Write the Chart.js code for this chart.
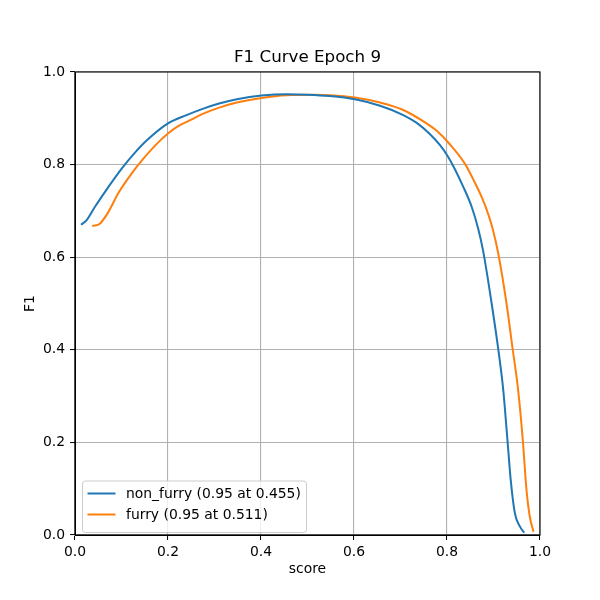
<!DOCTYPE html>
<html>
<head>
<meta charset="utf-8">
<script src="https://cdn.jsdelivr.net/npm/chart.js@4.4.1/dist/chart.umd.min.js"></script>
<style>
html,body{margin:0;padding:0;background:#fff;}
#c{display:block;}
</style>
</head>
<body>
<canvas id="c" width="600" height="600"></canvas>
<script>
const chartTitle = "F1 Curve Epoch 9";
const xLabel = "score";
const yLabel = "F1";
const seriesNames = ["non_furry (0.95 at 0.455)", "furry (0.95 at 0.511)"];
const seriesColors = ["#1f77b4", "#ff7f0e"];
const tickValues = [0, 0.2, 0.4, 0.6, 0.8, 1.0];

const nonFurryX = [0.013,0.025,0.043,0.072,0.100,0.129,0.154,0.2,0.24,0.276,0.31,0.348,0.401,0.455,0.5,0.548,0.602,0.656,0.706,0.735,0.763,0.785,0.801,0.817,0.835,0.853,0.867,0.878,0.896,0.910,0.921,0.930,0.937,0.946,0.957,0.966];
const nonFurryY = [0.670,0.680,0.709,0.752,0.791,0.826,0.852,0.889,0.907,0.921,0.932,0.941,0.949,0.952,0.951,0.948,0.941,0.927,0.907,0.890,0.866,0.842,0.819,0.790,0.752,0.709,0.662,0.612,0.500,0.403,0.313,0.205,0.119,0.047,0.018,0.005];

const furryX = [0.037,0.054,0.072,0.093,0.122,0.143,0.179,0.2,0.22,0.25,0.276,0.31,0.348,0.401,0.455,0.511,0.548,0.602,0.656,0.706,0.756,0.778,0.806,0.839,0.857,0.875,0.889,0.898,0.910,0.928,0.941,0.953,0.963,0.971,0.978,0.986];
const furryY = [0.667,0.673,0.698,0.738,0.781,0.808,0.848,0.867,0.882,0.897,0.910,0.923,0.934,0.944,0.950,0.951,0.950,0.945,0.934,0.918,0.889,0.873,0.844,0.801,0.767,0.729,0.692,0.662,0.609,0.500,0.403,0.313,0.205,0.097,0.040,0.007];

const toPts = (xs, ys) => xs.map((x, i) => ({x: x, y: ys[i]}));

const FONT = "'DejaVu Sans', sans-serif";

const framePlugin = {
  id: 'frame',
  afterDraw(chart) {
    const ctx = chart.ctx, a = chart.chartArea;
    ctx.save();
    ctx.strokeStyle = '#000';
    ctx.lineWidth = 1.1;
    ctx.strokeRect(a.left, a.top, a.right - a.left, a.bottom - a.top);
    // title
    ctx.fillStyle = '#000';
    ctx.font = '16.7px ' + FONT;
    ctx.textAlign = 'center';
    ctx.textBaseline = 'middle';
    ctx.fillText(chartTitle, (a.left + a.right) / 2, 58);
    ctx.textAlign = 'left';
    // legend
    const lx = 82.5, ly = 481, lw = 224, lh = 51.5, r = 3;
    ctx.beginPath();
    ctx.moveTo(lx + r, ly);
    ctx.lineTo(lx + lw - r, ly);
    ctx.quadraticCurveTo(lx + lw, ly, lx + lw, ly + r);
    ctx.lineTo(lx + lw, ly + lh - r);
    ctx.quadraticCurveTo(lx + lw, ly + lh, lx + lw - r, ly + lh);
    ctx.lineTo(lx + r, ly + lh);
    ctx.quadraticCurveTo(lx, ly + lh, lx, ly + lh - r);
    ctx.lineTo(lx, ly + r);
    ctx.quadraticCurveTo(lx, ly, lx + r, ly);
    ctx.closePath();
    ctx.fillStyle = 'rgba(255,255,255,0.8)';
    ctx.fill();
    ctx.strokeStyle = '#cccccc';
    ctx.lineWidth = 1;
    ctx.stroke();
    ctx.font = '13.9px ' + FONT;
    ctx.textBaseline = 'middle';
    chart.data.datasets.forEach((ds, i) => {
      const y = 493.5 + i * 21;
      ctx.beginPath();
      ctx.strokeStyle = ds.borderColor;
      ctx.lineWidth = 2;
      ctx.moveTo(87.5, y);
      ctx.lineTo(115.5, y);
      ctx.stroke();
      ctx.fillStyle = '#000';
      ctx.fillText(ds.label, 126, y + 0.5);
    });
    ctx.restore();
  }
};

new Chart(document.getElementById('c'), {
  type: 'line',
  data: {
    datasets: [
      {label: seriesNames[0], data: toPts(nonFurryX, nonFurryY), borderColor: seriesColors[0], backgroundColor: seriesColors[0], borderWidth: 2, pointRadius: 0, cubicInterpolationMode: 'monotone', fill: false},
      {label: seriesNames[1], data: toPts(furryX, furryY), borderColor: seriesColors[1], backgroundColor: seriesColors[1], borderWidth: 2, pointRadius: 0, cubicInterpolationMode: 'monotone', fill: false}
    ]
  },
  options: {
    responsive: false,
    animation: false,
    devicePixelRatio: 1,
    layout: {padding: {left: 0, right: 60, top: 72, bottom: 0}},
    plugins: {
      legend: {display: false},
      tooltip: {enabled: false},
      title: {display: false}
    },
    scales: {
      x: {
        type: 'linear', min: 0, max: 1,
        afterBuildTicks(s) { s.ticks = tickValues.map(v => ({value: v})); },
        afterFit(s) { s.height = 65; },
        ticks: {color: '#000', font: {family: FONT, size: 13.9}, padding: 4, maxRotation: 0, callback: v => v.toFixed(1)},
        grid: {color: '#b0b0b0', lineWidth: 1.1, tickColor: '#000', tickLength: 5, tickWidth: 1},
        border: {display: true, color: '#000', width: 1},
        title: {display: true, text: xLabel, color: '#000', font: {family: FONT, size: 13.9}, padding: {top: 0, bottom: 22.7}}
      },
      y: {
        type: 'linear', min: 0, max: 1,
        afterBuildTicks(s) { s.ticks = tickValues.map(v => ({value: v})); },
        afterFit(s) { s.width = 75; },
        ticks: {color: '#000', font: {family: FONT, size: 13.9}, padding: 5, callback: v => v.toFixed(1)},
        grid: {color: '#b0b0b0', lineWidth: 1.1, tickColor: '#000', tickLength: 5, tickWidth: 1},
        border: {display: true, color: '#000', width: 1},
        title: {display: true, text: yLabel, color: '#000', font: {family: FONT, size: 13.9}, padding: {top: 22, bottom: 0}}
      }
    }
  },
  plugins: [framePlugin]
});
</script>
</body>
</html>
